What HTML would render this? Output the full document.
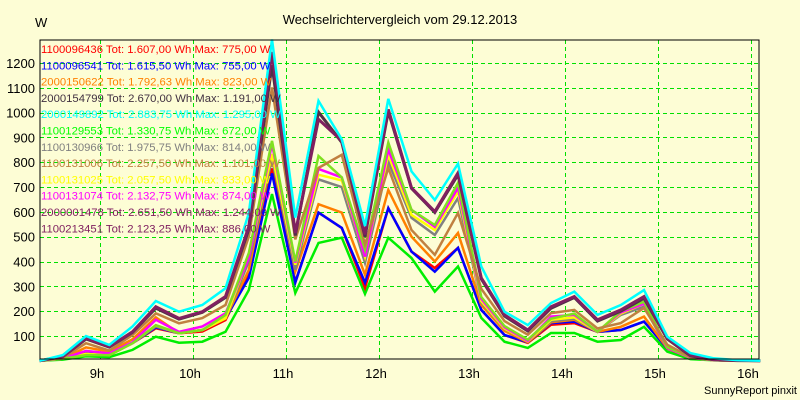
<!DOCTYPE html>
<html><head><meta charset="utf-8"><style>
html,body{margin:0;padding:0;background:#fdfdd5;}
svg{display:block;font-family:"Liberation Sans",Arial,sans-serif;}
</style></head><body>
<svg id="chart" width="800" height="400" viewBox="0 0 800 400">
<rect x="0" y="0" width="800" height="400" fill="#fdfdd5"/>
<text x="400" y="24" font-size="13" text-anchor="middle" fill="#000">Wechselrichtervergleich vom 29.12.2013</text>
<text x="35" y="27" font-size="13" fill="#000">W</text>
<text x="797" y="394" font-size="11" text-anchor="end" fill="#000">SunnyReport pinxit</text>
<g id="grid"></g>
<g id="yticks"></g>
<g id="xticks"></g>
<g id="series"></g>
<g id="legend"></g>
<rect x="40" y="40" width="719" height="319" fill="none" stroke="#000" stroke-width="1"/>
</svg>
<script>
const hourTicks = [9,10,11,12,13,14,15,16];
const valueTicks = [100,200,300,400,500,600,700,800,900,1000,1100,1200];
const startTime = 8.35;
const stepHours = 0.25;
const seriesNames = ["1100096436","1100096541","2000150622","2000154799","2000149892","1100129553","1100130966","1100131006","1100131025","1100131074","2000001478","1100213451"];
const seriesTotals = ["1.607,00","1.615,50","1.792,63","2.670,00","2.883,75","1.330,75","1.975,75","2.257,50","2.057,50","2.132,75","2.651,50","2.123,25"];
const seriesMax = ["775,00","755,00","823,00","1.191,00","1.295,00","672,00","814,00","1.101,00","833,00","874,00","1.244,00","886,00"];
const seriesColors = ["#ff0000","#0000ff","#ff8000","#403040","#00ffff","#00ff00","#808080","#c08040","#ffff00","#ff00ff","#802060","#802060"];
const lineColors = ["#ff0000","#0000ff","#ff8000","#503048","#00ffff","#00ee00","#808080","#c08040","#ffff00","#ff00ff","#802060","#80e020"];
const s0 = [0,9,30,23,71,131,111,118,164,354,775,318,597,535,294,615,440,374,455,205,104,72,145,152,117,124,158,50,12,3,0,0];
const s1 = [0,9,30,23,71,135,111,124,171,334,755,315,597,535,315,615,440,359,455,205,104,75,152,158,117,124,158,50,12,3,0,0];
const s2 = [0,9,54,37,87,175,111,124,171,366,823,360,631,597,347,688,500,400,515,225,120,75,155,165,117,137,178,50,12,3,0,0];
const s3 = [0,17,88,55,115,212,168,195,255,530,1191,505,1002,880,500,1005,695,598,750,330,180,120,212,255,160,200,252,88,20,4,1,0];
const s4 = [0,23,100,64,138,241,198,225,292,595,1295,577,1047,892,543,1055,763,648,794,380,198,144,233,279,185,225,285,97,31,10,3,0];
const s5 = [0,5,18,15,44,97,73,77,117,285,672,273,475,496,270,496,414,279,380,173,77,52,112,112,77,84,137,37,7,2,0,0];
const s6 = [0,9,28,23,71,138,111,124,171,400,814,367,731,700,395,803,576,507,656,235,128,78,160,170,117,185,218,52,12,3,0,0];
const s7 = [0,12,71,41,104,191,151,172,225,500,1101,489,777,830,468,777,527,427,596,290,160,105,192,205,130,152,213,65,15,3,0,0];
const s8 = [0,9,28,23,71,143,111,124,171,420,833,387,750,727,420,830,588,527,682,240,130,78,165,175,117,190,230,52,12,3,0,0];
const s9 = [0,9,40,30,75,165,117,138,191,414,874,395,773,739,420,851,608,540,697,250,135,80,178,185,117,195,230,52,13,3,0,0];
const s10 = [0,18,91,57,117,218,171,198,259,541,1244,515,973,886,509,1013,697,601,757,334,185,124,218,259,165,205,259,92,23,5,2,0];
const s11 = [0,9,23,23,71,144,111,124,185,434,886,400,825,739,448,879,608,547,717,257,140,85,170,190,117,200,238,55,15,3,0,0];
const allSeries = [s0,s1,s2,s3,s4,s5,s6,s7,s8,s9,s10,s11];

const NS = "http://www.w3.org/2000/svg";
function xScale(h){ return 100 + (h - 9) * 93; }
function yScale(v){ return 360.8 - v * 0.2482; }
function mk(tag, attrs, parent){ const e = document.createElementNS(NS, tag); for (const k in attrs) e.setAttribute(k, attrs[k]); parent.appendChild(e); return e; }

const grid = document.getElementById('grid');
const yt = document.getElementById('yticks');
const xt = document.getElementById('xticks');
valueTicks.forEach(v => {
  const y = Math.round(yScale(v)) + 0.5;
  const l = mk('line', {x1:40, x2:759, y1:y, y2:y, stroke:'#00e000', 'stroke-dasharray':'4,3', 'stroke-width':1}, grid);
  
  
  const t = mk('text', {x:35, y:yScale(v)+5, 'font-size':13, 'text-anchor':'end', fill:'#000'}, yt);
  t.textContent = v;
  
  
});
hourTicks.forEach(h => {
  const x = Math.round(xScale(h)) + 0.5;
  const l = mk('line', {x1:x, x2:x, y1:40, y2:359, stroke:'#00e000', 'stroke-dasharray':'4,3', 'stroke-width':1}, grid);
  
  
  const t = mk('text', {x:xScale(h)-3, y:378, 'font-size':13, 'text-anchor':'middle', fill:'#000'}, xt);
  t.textContent = h + 'h';
  
  
});

const sg = document.getElementById('series');
const order = [5,0,1,2,6,8,9,11,7,3,10,4];
order.forEach(i => {
  const pts = allSeries[i].map((v, j) => xScale(startTime + j * stepHours).toFixed(1) + ',' + yScale(v).toFixed(1)).join(' ');
  const p = mk('polyline', {points:pts, fill:'none', stroke:lineColors[i], 'stroke-width':(i===10||i===3)?3:2.5, 'stroke-linejoin':'miter'}, sg);
  
  
});

const lg = document.getElementById('legend');
seriesNames.forEach((n, i) => {
  const t = mk('text', {x:41, y:53 + i*16.3, 'font-size':11.3, fill:seriesColors[i]}, lg);
  t.textContent = n + ' Tot: ' + seriesTotals[i] + ' Wh Max: ' + seriesMax[i] + ' W';
  
  
});
</script>
</body></html>
